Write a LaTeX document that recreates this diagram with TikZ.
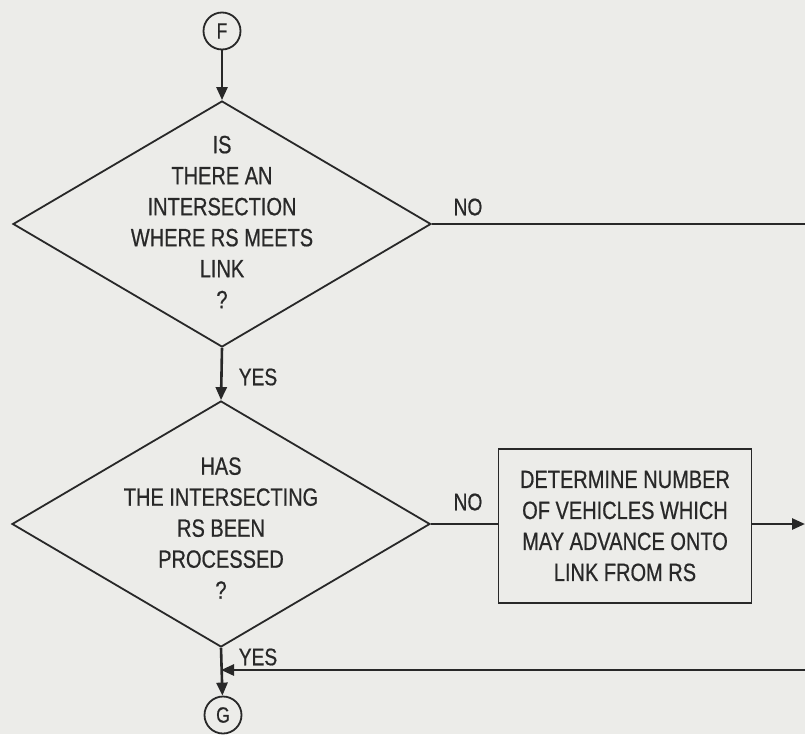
\documentclass[tikz,border=0pt]{standalone}
\usepackage{fontspec}
\setmainfont{Liberation Sans}[FakeStretch=0.8, FakeBold=0.6]
\usepackage{tikz}
\usetikzlibrary{shapes.geometric,arrows.meta}
\definecolor{paper}{RGB}{236,236,233}
\definecolor{ink}{RGB}{40,40,40}
\tikzstyle{node_decision} = [diamond, draw=ink, line width=1.8pt, inner sep=0pt, minimum width=418pt, minimum height=246pt]
\tikzstyle{node_process} = [rectangle, draw=ink, line width=1.8pt, inner sep=0pt, minimum width=253pt, minimum height=154pt]
\tikzstyle{node_connector} = [circle, draw=ink, line width=1.8pt, inner sep=0pt, minimum size=37pt, font=\fontsize{22}{22}\selectfont, text=ink]
\tikzstyle{node_text} = [align=center, font=\fontsize{25}{31}\selectfont, text=ink]
\tikzstyle{node_label} = [font=\fontsize{24}{24}\selectfont, text=ink]
\tikzstyle{edge_normal} = [draw=ink, line width=2.6pt]
\tikzstyle{edge_arrow} = [edge_normal, -{Triangle[length=13pt,width=11pt]}]

\begin{document}
\begin{tikzpicture}[x=1pt, y=-1pt]
			\fill[paper] (0,0) rectangle (805,734);
			\useasboundingbox (0,0) rectangle (805,734);

			\node (F) at (222,31) [node_connector] {F};
			\node (D1) at (222,224) [node_decision] {};
			\node (D2) at (221,524) [node_decision] {};
			\node (P1) at (625,526) [node_process] {};
			\node (G) at (223,715) [node_connector] {G};

			\node (T1) at (222,222) [node_text] {IS\\THERE AN\\INTERSECTION\\WHERE RS MEETS\\LINK\\?};
			\node (T2) at (221,528) [node_text] {HAS\\THE INTERSECTING\\RS BEEN\\PROCESSED\\?};
			\node (T3) at (625,526) [node_text] {DETERMINE NUMBER\\OF VEHICLES WHICH\\MAY ADVANCE ONTO\\LINK FROM RS};

			\node (N1) at (468,207) [node_label] {NO};
			\node (Y1) at (258,377) [node_label] {YES};
			\node (N2) at (468,502) [node_label] {NO};
			\node (Y2) at (258,657) [node_label] {YES};

			\coordinate (R1) at (805,224);
			\coordinate (R2) at (805,524);
			\coordinate (R3) at (805,670);
			\coordinate (J) at (221,670);

			\draw[edge_arrow] (F)--(D1.north);
			\draw[edge_normal] (D1.east)--(R1);
			\draw[edge_arrow] (D1.south)--(D2.north);
			\draw[edge_normal] (D2.east)--(P1.west |- D2.east);
			\draw[edge_arrow] (P1.east |- R2)--(R2);
			\draw[edge_arrow] (R3)--(J);
			\draw[edge_arrow] (D2.south)--(G);
		\end{tikzpicture}
\end{document}
